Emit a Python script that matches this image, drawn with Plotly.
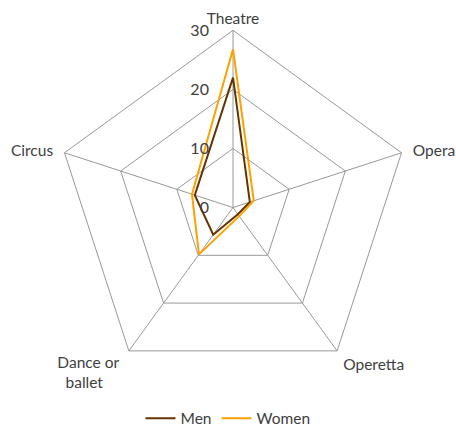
import plotly.graph_objects as go

NB = "\u00a0"
categories = ["Theatre", NB * 2 + "Opera", NB + "Operetta",
              "Dance or" + NB * 2 + "<br>ballet" + NB * 6, "Circus" + NB * 2]
men = [22, 3.0, 1.4, 5.7, 6.8]
women = [26.8, 3.7, 1.8, 9.8, 7.3]
radial_ticks = [0, 10, 20, 30]

def closed(vals):
    return vals + vals[:1]

fig = go.Figure()
fig.add_trace(go.Scatterpolar(r=closed(men), theta=closed(categories), mode="lines",
                              name="Men", line=dict(color="#663300", width=2)))
fig.add_trace(go.Scatterpolar(r=closed(women), theta=closed(categories), mode="lines",
                              name="Women", line=dict(color="#FFA000", width=2)))

fig.update_layout(
    width=456, height=427,
    margin=dict(l=0, r=0, t=0, b=0),
    paper_bgcolor="white",
    font=dict(family="Lato, Open Sans, sans-serif", color="#404040", size=15.5),
    polar=dict(
        domain=dict(x=[52/456, 414/456], y=[34/427, 396/427]),
        bgcolor="white",
        gridshape="linear",
        angularaxis=dict(rotation=90, direction="clockwise", gridcolor="#999999",
                         linecolor="#999999", showline=True, linewidth=1,
                         ticks="", tickfont=dict(size=15.5, color="#404040")),
        radialaxis=dict(range=[0, 30], tickvals=radial_ticks, angle=90, tickangle=90,
                        side="counterclockwise",
                        ticks="outside", ticklen=18, tickcolor="rgba(0,0,0,0)",
                        gridcolor="#999999", showline=False,
                        tickfont=dict(size=16, color="#404040")),
    ),
    legend=dict(orientation="h", x=0.5, xanchor="center", y=0.02, yanchor="middle",
                font=dict(size=15.5, color="#404040")),
)

shift_legend = """
document.body.style.margin='0';
var lg=document.querySelector('g.legend');
if(lg){var t=lg.getAttribute('transform')||'';
var m=t.match(/translate\\(([-\\d.e]+)[ ,]+([-\\d.e]+)\\)/);
if(m){lg.setAttribute('transform','translate('+m[1]+','+(parseFloat(m[2])+9)+')');}}
"""

fig.write_html("out.html", config={"displayModeBar": False}, post_script=shift_legend)
